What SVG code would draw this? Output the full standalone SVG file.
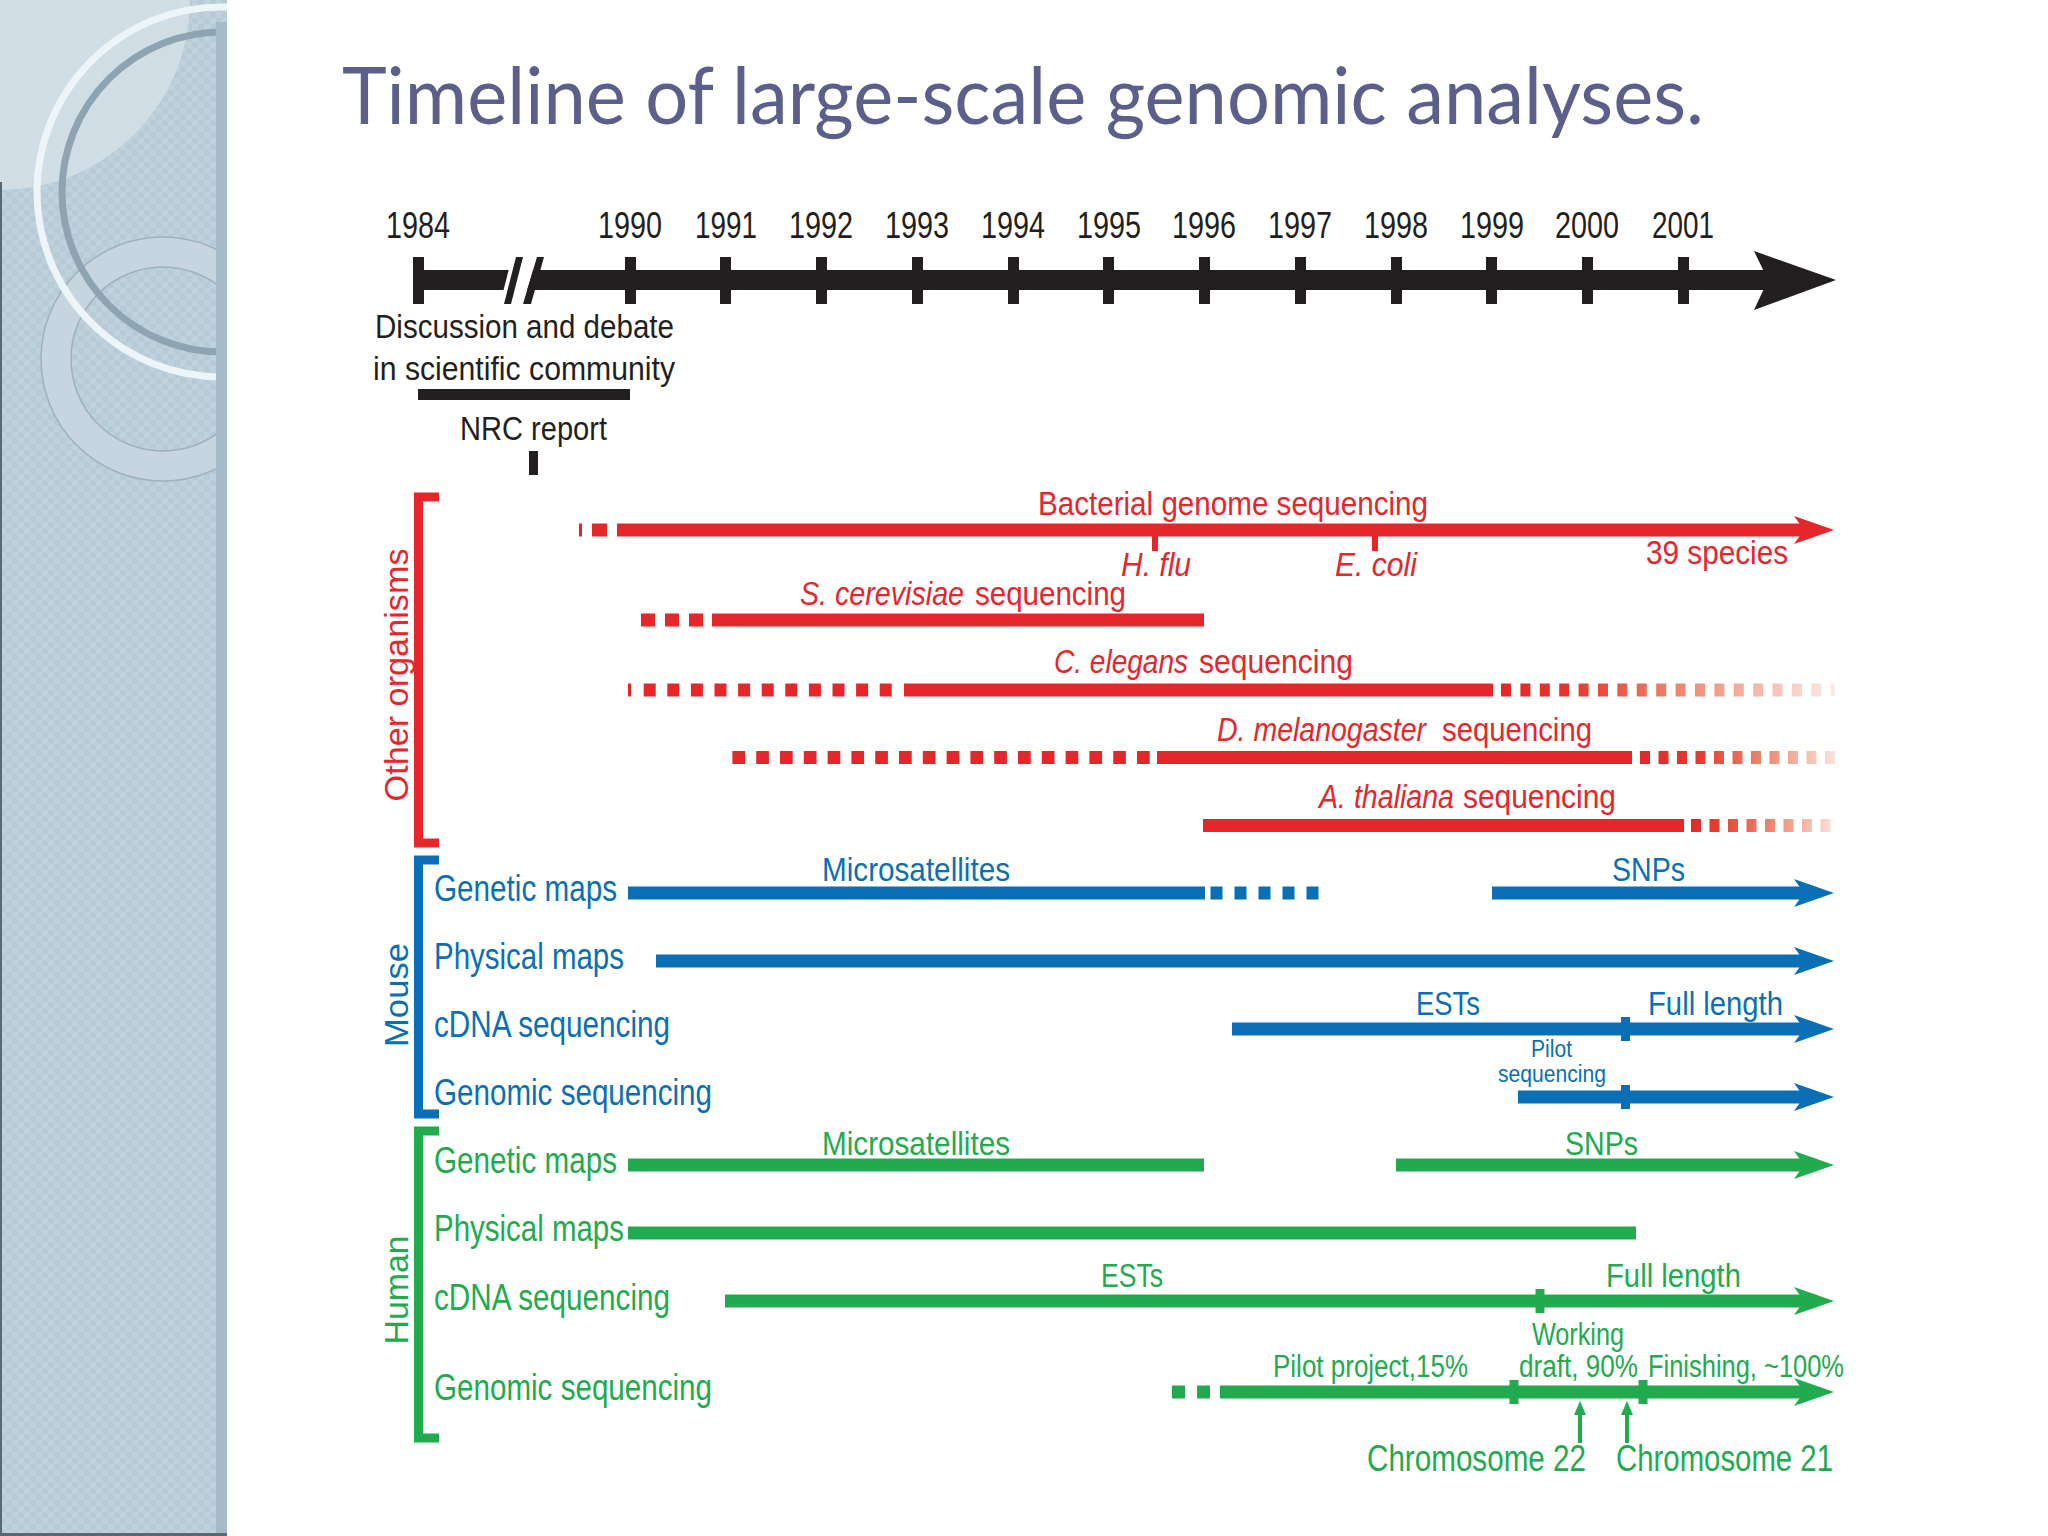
<svg xmlns="http://www.w3.org/2000/svg" width="2048" height="1536" viewBox="0 0 2048 1536">
<style>
.t{font-family:"Liberation Sans Narrow","Liberation Sans",Arial,sans-serif}
.yr{font-size:37px;fill:#231f20;text-anchor:middle}
.blk{fill:#231f20}
.s33{font-size:33px}
.s36{font-size:36px}
.s31{font-size:31px}
.s24{font-size:23px}
.it{font-style:italic}
.rot{font-family:"Liberation Sans",Arial,sans-serif;font-size:34px;text-anchor:middle}
.red{fill:#e5262b}
.blue{fill:#0b6fb5}
.green{fill:#21ab4e}
.rs{stroke:#e5262b;stroke-width:13;fill:none}
.bs{stroke:#0b6fb5;stroke-width:13;fill:none}
.gs{stroke:#21ab4e;stroke-width:13;fill:none}
</style>
<defs>
<pattern id="checker" width="12" height="12" patternUnits="userSpaceOnUse">
<rect width="12" height="12" fill="#b7cbd7"/>
<rect width="6" height="6" fill="#bfd1dc"/>
<rect x="6" y="6" width="6" height="6" fill="#bfd1dc"/>
</pattern>
<clipPath id="panelClip"><rect x="0" y="0" width="227" height="1536"/></clipPath>
<marker id="ahR" viewBox="0 0 40 30" refX="21" refY="15" markerWidth="40" markerHeight="30" markerUnits="userSpaceOnUse" orient="auto"><path d="M0,1 L40,15 L0,29 L10,15 Z" fill="#e5262b"/></marker>
<marker id="ahB" viewBox="0 0 40 30" refX="21" refY="15" markerWidth="40" markerHeight="30" markerUnits="userSpaceOnUse" orient="auto"><path d="M0,1 L40,15 L0,29 L10,15 Z" fill="#0b6fb5"/></marker>
<marker id="ahG" viewBox="0 0 40 30" refX="21" refY="15" markerWidth="40" markerHeight="30" markerUnits="userSpaceOnUse" orient="auto"><path d="M0,1 L40,15 L0,29 L10,15 Z" fill="#21ab4e"/></marker>
<marker id="ahSmall" viewBox="0 0 14 12" refX="7" refY="6" markerWidth="14" markerHeight="12" markerUnits="userSpaceOnUse" orient="auto"><path d="M0,0 L14,6 L0,12 Z" fill="#21ab4e"/></marker>
<linearGradient id="fadeC" gradientUnits="userSpaceOnUse" x1="1500" y1="0" x2="1835" y2="0">
<stop offset="0" stop-color="#e5262b"/><stop offset="0.2" stop-color="#e5342c"/><stop offset="0.55" stop-color="#ee8a72"/><stop offset="1" stop-color="#fcebe6"/></linearGradient>
<linearGradient id="fadeD" gradientUnits="userSpaceOnUse" x1="1640" y1="0" x2="1835" y2="0">
<stop offset="0" stop-color="#e5262b"/><stop offset="0.3" stop-color="#e63a2e"/><stop offset="0.65" stop-color="#ee8a72"/><stop offset="1" stop-color="#fbe3dc"/></linearGradient>
<linearGradient id="fadeA" gradientUnits="userSpaceOnUse" x1="1690" y1="0" x2="1835" y2="0">
<stop offset="0" stop-color="#e5262b"/><stop offset="0.2" stop-color="#e6402f"/><stop offset="0.6" stop-color="#ee8f78"/><stop offset="1" stop-color="#fbe3dc"/></linearGradient>
</defs>

<rect width="2048" height="1536" fill="#ffffff"/>

<g id="sidebar" clip-path="url(#panelClip)">
<rect x="0" y="0" width="227" height="1536" fill="url(#checker)"/>
<path d="M0,0 L190,0 A190,190 0 0 1 0,190 Z" fill="#d3e0e8" opacity="0.85"/>
<circle cx="163" cy="359" r="107" fill="none" stroke="#c6d5df" stroke-width="30"/>
<circle cx="163" cy="359" r="122" fill="none" stroke="#9db1be" stroke-width="1.5"/>
<circle cx="163" cy="359" r="92" fill="none" stroke="#9db1be" stroke-width="1.5"/>
<circle cx="222" cy="192" r="185" fill="none" stroke="#eef5f9" stroke-width="7"/>
<circle cx="222" cy="192" r="160" fill="none" stroke="#8fa4b2" stroke-width="7"/>
<rect x="216" y="22" width="11" height="1514" fill="#a5bbc9"/>
<rect x="0" y="182" width="2" height="1354" fill="#5a6670"/>
<rect x="0" y="1533" width="227" height="3" fill="#5a6670"/>
</g>

<g id="title">
<text x="342" y="124" font-family="Lato,'Open Sans',sans-serif" font-size="80" fill="#5b5f8c" textLength="1362" lengthAdjust="spacingAndGlyphs">Timeline of large-scale genomic analyses.</text>
</g>

<g id="axis">
<rect x="413" y="270" width="1360" height="20" class="blk"/>
<polygon points="1754,251 1836,280 1754,310 1768,280" class="blk"/>
<g class="blk">
<rect x="413" y="257" width="11" height="47"/>
<rect x="625" y="257" width="11" height="47"/>
<rect x="720" y="257" width="11" height="47"/>
<rect x="816" y="257" width="11" height="47"/>
<rect x="912" y="257" width="11" height="47"/>
<rect x="1008" y="257" width="11" height="47"/>
<rect x="1103" y="257" width="11" height="47"/>
<rect x="1199" y="257" width="11" height="47"/>
<rect x="1295" y="257" width="11" height="47"/>
<rect x="1391" y="257" width="11" height="47"/>
<rect x="1486" y="257" width="11" height="47"/>
<rect x="1582" y="257" width="11" height="47"/>
<rect x="1678" y="257" width="11" height="47"/>
</g>
<polygon points="500,304 523,304 537,257 512,257" fill="#ffffff"/>
<polygon points="504,304 511,304 523,257 516,257" class="blk"/>
<polygon points="523,304 531,304 544,257 537,257" class="blk"/>
<g class="t yr">
<text x="418" y="238" textLength="64" lengthAdjust="spacingAndGlyphs">1984</text>
<text x="630" y="238" textLength="64" lengthAdjust="spacingAndGlyphs">1990</text>
<text x="726" y="238" textLength="62" lengthAdjust="spacingAndGlyphs">1991</text>
<text x="821" y="238" textLength="64" lengthAdjust="spacingAndGlyphs">1992</text>
<text x="917" y="238" textLength="64" lengthAdjust="spacingAndGlyphs">1993</text>
<text x="1013" y="238" textLength="64" lengthAdjust="spacingAndGlyphs">1994</text>
<text x="1109" y="238" textLength="64" lengthAdjust="spacingAndGlyphs">1995</text>
<text x="1204" y="238" textLength="64" lengthAdjust="spacingAndGlyphs">1996</text>
<text x="1300" y="238" textLength="64" lengthAdjust="spacingAndGlyphs">1997</text>
<text x="1396" y="238" textLength="64" lengthAdjust="spacingAndGlyphs">1998</text>
<text x="1492" y="238" textLength="64" lengthAdjust="spacingAndGlyphs">1999</text>
<text x="1587" y="238" textLength="64" lengthAdjust="spacingAndGlyphs">2000</text>
<text x="1683" y="238" textLength="62" lengthAdjust="spacingAndGlyphs">2001</text>
</g>
</g>

<g id="discussion">
<text x="375" y="338" class="t s33 blk" textLength="299" lengthAdjust="spacingAndGlyphs">Discussion and debate</text>
<text x="373" y="380" class="t s33 blk" textLength="302" lengthAdjust="spacingAndGlyphs">in scientific community</text>
<rect x="418" y="389" width="212" height="11" class="blk"/>
</g>

<g id="nrc-report">
<text x="460" y="440" class="t s33 blk" textLength="147" lengthAdjust="spacingAndGlyphs">NRC report</text>
<rect x="529" y="451" width="9" height="24" class="blk"/>
</g>

<g id="bracket-other">
<path d="M439,497 H418.5 V843 H439" fill="none" stroke="#e5262b" stroke-width="9"/>
<text transform="translate(408,675) rotate(-90)" class="rot red" textLength="253" lengthAdjust="spacingAndGlyphs">Other organisms</text>
</g>
<g id="bracket-mouse">
<path d="M439,860 H418.5 V1114 H439" fill="none" stroke="#0b6fb5" stroke-width="9"/>
<text transform="translate(408,995) rotate(-90)" class="rot blue" textLength="104" lengthAdjust="spacingAndGlyphs">Mouse</text>
</g>
<g id="bracket-human">
<path d="M439,1131 H418.5 V1438 H439" fill="none" stroke="#21ab4e" stroke-width="9"/>
<text transform="translate(408,1290) rotate(-90)" class="rot green" textLength="109" lengthAdjust="spacingAndGlyphs">Human</text>
</g>

<g id="bacterial">
<rect x="579" y="523.5" width="3" height="13" class="red"/>
<rect x="592" y="523.5" width="15" height="13" class="red"/>
<line x1="617" y1="530" x2="1815" y2="530" class="rs" marker-end="url(#ahR)"/>
<rect x="1152" y="530" width="6" height="21" class="red"/>
<rect x="1372" y="530" width="6" height="21" class="red"/>
<text x="1038" y="515" class="t s33 red" textLength="390" lengthAdjust="spacingAndGlyphs">Bacterial genome sequencing</text>
<text x="1121" y="576" class="t s33 red it" textLength="70" lengthAdjust="spacingAndGlyphs">H. flu</text>
<text x="1335" y="576" class="t s33 red it" textLength="82" lengthAdjust="spacingAndGlyphs">E. coli</text>
<text x="1646" y="564" class="t s33 red" textLength="142" lengthAdjust="spacingAndGlyphs">39 species</text>
</g>

<g id="s-cerevisiae">
<line x1="641" y1="620" x2="703" y2="620" class="rs" stroke-dasharray="14 10"/>
<line x1="712" y1="620" x2="1204" y2="620" class="rs"/>
<text x="800" y="605" class="t s33 red it" textLength="164" lengthAdjust="spacingAndGlyphs">S. cerevisiae</text>
<text x="975" y="605" class="t s33 red" textLength="151" lengthAdjust="spacingAndGlyphs">sequencing</text>
</g>

<g id="c-elegans">
<rect x="628" y="683.5" width="3" height="13" class="red"/>
<line x1="643.7" y1="690" x2="896" y2="690" class="rs" stroke-dasharray="12 11.6"/>
<line x1="904" y1="690" x2="1493" y2="690" class="rs"/>
<line x1="1501" y1="690" x2="1835" y2="690" stroke="url(#fadeC)" stroke-width="13" stroke-dasharray="10 9.4"/>
<text x="1054" y="673" class="t s33 red it" textLength="134" lengthAdjust="spacingAndGlyphs">C. elegans</text>
<text x="1199" y="673" class="t s33 red" textLength="154" lengthAdjust="spacingAndGlyphs">sequencing</text>
</g>

<g id="d-melanogaster">
<line x1="732.4" y1="757.5" x2="1150" y2="757.5" class="rs" stroke-dasharray="12.7 11.1"/>
<line x1="1157" y1="757.5" x2="1632" y2="757.5" class="rs"/>
<line x1="1640" y1="757.5" x2="1835" y2="757.5" stroke="url(#fadeD)" stroke-width="13" stroke-dasharray="10 8.5"/>
<text x="1217" y="741" class="t s33 red it" textLength="209" lengthAdjust="spacingAndGlyphs">D. melanogaster</text>
<text x="1442" y="741" class="t s33 red" textLength="150" lengthAdjust="spacingAndGlyphs">sequencing</text>
</g>

<g id="a-thaliana">
<line x1="1203" y1="825.5" x2="1684" y2="825.5" class="rs"/>
<line x1="1691" y1="825.5" x2="1835" y2="825.5" stroke="url(#fadeA)" stroke-width="13" stroke-dasharray="10 8.5"/>
<text x="1319" y="808" class="t s33 red it" textLength="135" lengthAdjust="spacingAndGlyphs">A. thaliana</text>
<text x="1463" y="808" class="t s33 red" textLength="153" lengthAdjust="spacingAndGlyphs">sequencing</text>
</g>

<g id="mouse-genetic-maps">
<text x="434" y="901" class="t s36 blue" textLength="183" lengthAdjust="spacingAndGlyphs">Genetic maps</text>
<line x1="628" y1="893" x2="1205" y2="893" class="bs"/>
<line x1="1210.5" y1="893" x2="1319" y2="893" class="bs" stroke-dasharray="12 12"/>
<line x1="1492" y1="893" x2="1815" y2="893" class="bs" marker-end="url(#ahB)"/>
<text x="822" y="881" class="t s33 blue" textLength="188" lengthAdjust="spacingAndGlyphs">Microsatellites</text>
<text x="1612" y="881" class="t s33 blue" textLength="73" lengthAdjust="spacingAndGlyphs">SNPs</text>
</g>

<g id="mouse-physical-maps">
<text x="434" y="969" class="t s36 blue" textLength="190" lengthAdjust="spacingAndGlyphs">Physical maps</text>
<line x1="656" y1="961" x2="1815" y2="961" class="bs" marker-end="url(#ahB)"/>
</g>

<g id="mouse-cdna">
<text x="434" y="1037" class="t s36 blue" textLength="236" lengthAdjust="spacingAndGlyphs">cDNA sequencing</text>
<line x1="1232" y1="1029" x2="1815" y2="1029" class="bs" marker-end="url(#ahB)"/>
<rect x="1621" y="1017" width="9" height="24" class="blue"/>
<text x="1416" y="1015" class="t s33 blue" textLength="64" lengthAdjust="spacingAndGlyphs">ESTs</text>
<text x="1648" y="1015" class="t s33 blue" textLength="135" lengthAdjust="spacingAndGlyphs">Full length</text>
</g>

<g id="mouse-genomic">
<text x="434" y="1105" class="t s36 blue" textLength="278" lengthAdjust="spacingAndGlyphs">Genomic sequencing</text>
<line x1="1518" y1="1097" x2="1815" y2="1097" class="bs" marker-end="url(#ahB)"/>
<rect x="1621" y="1085" width="9" height="24" class="blue"/>
<text x="1531" y="1057" class="t s24 blue" textLength="41" lengthAdjust="spacingAndGlyphs">Pilot</text>
<text x="1498" y="1082" class="t s24 blue" textLength="108" lengthAdjust="spacingAndGlyphs">sequencing</text>
</g>

<g id="human-genetic-maps">
<text x="434" y="1173" class="t s36 green" textLength="183" lengthAdjust="spacingAndGlyphs">Genetic maps</text>
<line x1="628" y1="1165" x2="1204" y2="1165" class="gs"/>
<line x1="1396" y1="1165" x2="1815" y2="1165" class="gs" marker-end="url(#ahG)"/>
<text x="822" y="1155" class="t s33 green" textLength="188" lengthAdjust="spacingAndGlyphs">Microsatellites</text>
<text x="1565" y="1155" class="t s33 green" textLength="73" lengthAdjust="spacingAndGlyphs">SNPs</text>
</g>

<g id="human-physical-maps">
<text x="434" y="1241" class="t s36 green" textLength="190" lengthAdjust="spacingAndGlyphs">Physical maps</text>
<line x1="628" y1="1233" x2="1636" y2="1233" class="gs"/>
</g>

<g id="human-cdna">
<text x="434" y="1310" class="t s36 green" textLength="236" lengthAdjust="spacingAndGlyphs">cDNA sequencing</text>
<line x1="725" y1="1301" x2="1815" y2="1301" class="gs" marker-end="url(#ahG)"/>
<rect x="1535.5" y="1289" width="9" height="24" class="green"/>
<text x="1101" y="1287" class="t s33 green" textLength="62" lengthAdjust="spacingAndGlyphs">ESTs</text>
<text x="1606" y="1287" class="t s33 green" textLength="135" lengthAdjust="spacingAndGlyphs">Full length</text>
</g>

<g id="human-genomic">
<text x="434" y="1400" class="t s36 green" textLength="278" lengthAdjust="spacingAndGlyphs">Genomic sequencing</text>
<line x1="1172" y1="1392" x2="1211" y2="1392" class="gs" stroke-dasharray="13 12"/>
<line x1="1220" y1="1392" x2="1815" y2="1392" class="gs" marker-end="url(#ahG)"/>
<rect x="1509.5" y="1380" width="9" height="24" class="green"/>
<rect x="1638.5" y="1380" width="9" height="24" class="green"/>
<text x="1273" y="1377" class="t s31 green" textLength="195" lengthAdjust="spacingAndGlyphs">Pilot project,15%</text>
<text x="1532" y="1345" class="t s31 green" textLength="92" lengthAdjust="spacingAndGlyphs">Working</text>
<text x="1519" y="1377" class="t s31 green" textLength="119" lengthAdjust="spacingAndGlyphs">draft, 90%</text>
<text x="1648" y="1377" class="t s31 green" textLength="196" lengthAdjust="spacingAndGlyphs">Finishing, ~100%</text>
</g>

<g id="chromosome-22">
<text x="1367" y="1471" class="t s36 green" textLength="219" lengthAdjust="spacingAndGlyphs">Chromosome 22</text>
</g>
<g id="chromosome-21">
<text x="1616" y="1471" class="t s36 green" textLength="217" lengthAdjust="spacingAndGlyphs">Chromosome 21</text>
</g>

<g id="connectors">
<line x1="1580" y1="1443" x2="1580" y2="1408" stroke="#21ab4e" stroke-width="4" marker-end="url(#ahSmall)"/>
<line x1="1627" y1="1443" x2="1627" y2="1408" stroke="#21ab4e" stroke-width="4" marker-end="url(#ahSmall)"/>
</g>
</svg>
